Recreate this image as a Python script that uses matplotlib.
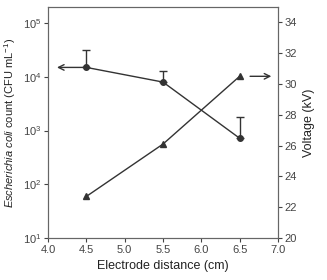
import numpy as np
import matplotlib.pyplot as plt

plt.rcParams['font.family'] = ['Liberation Sans', 'DejaVu Sans']
plt.rcParams['mathtext.fontset'] = 'custom'
plt.rcParams['mathtext.rm'] = 'Liberation Sans'
plt.rcParams['mathtext.it'] = 'Liberation Sans:italic'

distance = [4.5, 5.5, 6.5]
ecoli = [1.5e4, 8.0e3, 7.2e2]
ecoli_err_up = [1.7e4, 5.0e3, 1.08e3]
voltage = [22.7, 26.1, 30.5]

col = '#333333'
fig = plt.figure(figsize=(3.27, 2.8), dpi=100)
ax = fig.add_axes([0.147, 0.15, 0.703, 0.825])
ax.errorbar(distance, ecoli, yerr=[[0, 0, 0], ecoli_err_up], color=col,
            marker='o', markersize=4, lw=1, capsize=3, elinewidth=1, capthick=1)
ax.set_yscale('log')
ax.set_ylim(10, 2e5)
ax.set_xlim(4.0, 7.0)
ax.set_xticks(np.arange(4.0, 7.01, 0.5))
ax.set_xticklabels(['%.1f' % v for v in np.arange(4.0, 7.01, 0.5)])
ax.minorticks_off()
ax.set_xlabel('Electrode distance (cm)', fontsize=9, color='#222222')
ax.set_ylabel(r'$\it{Escherichia\ coli}$ count (CFU mL$^{-1}$)', fontsize=8,
              color='#222222', labelpad=3)

ax2 = ax.twinx()
ax2.plot(distance, voltage, color=col, marker='^', markersize=4, lw=1)
ax2.set_ylim(20, 35)
ax2.set_yticks(range(20, 35, 2))
ax2.set_ylabel('Voltage (kV)', fontsize=9, color='#222222')

# arrows pointing to the axis each series belongs to
ax.annotate('', xy=(4.08, ecoli[0]), xytext=(4.5, ecoli[0]),
            arrowprops=dict(arrowstyle='->', color=col, lw=1))
ax2.annotate('', xy=(6.95, voltage[2]), xytext=(6.6, voltage[2]),
             arrowprops=dict(arrowstyle='->', color=col, lw=1))

for a in (ax, ax2):
    a.tick_params(labelsize=8, colors='#444444', length=3, width=0.8, pad=2)
    for s in a.spines.values():
        s.set_color('#666666')
        s.set_linewidth(0.8)

fig.savefig('out.png', dpi=100)
